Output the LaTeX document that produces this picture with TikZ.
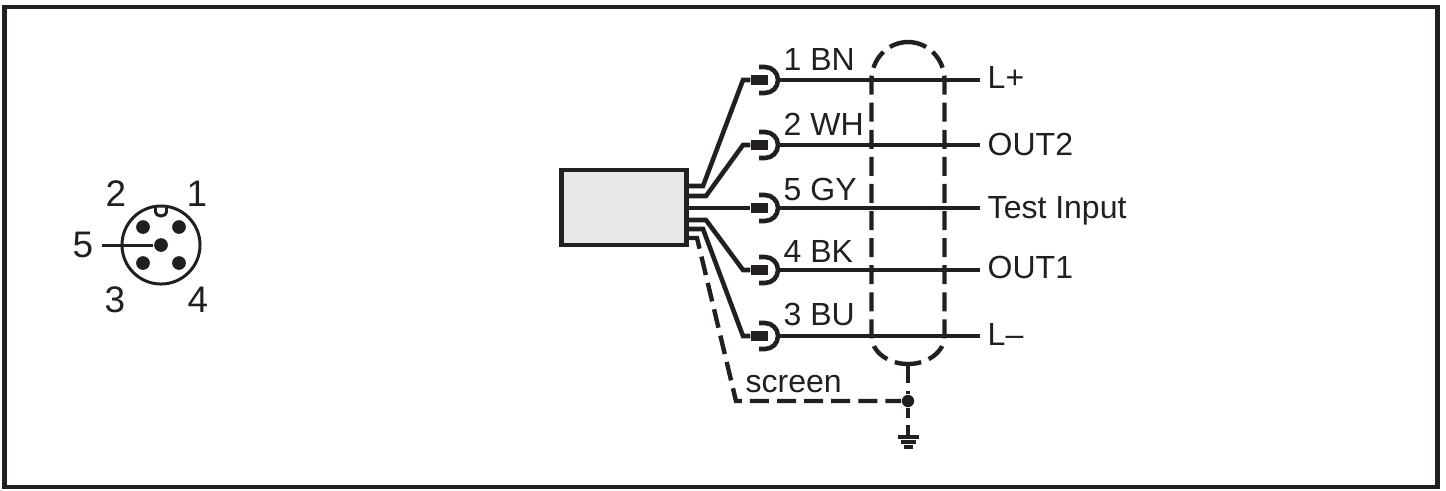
\documentclass[tikz,border=0pt]{standalone}
\usepackage{fontspec}
\setmainfont{Liberation Sans}
\definecolor{ink}{HTML}{231F20}
\definecolor{boxgrey}{HTML}{E6E7E8}
\tikzset{
    wire/.style={ink, line width=1.3pt},
    thinwire/.style={ink, line width=.85pt},
    screenwire/.style={ink, line width=1.25pt, dash pattern=on 5.4pt off 2.3pt},
    sig/.style={anchor=base west, inner sep=0pt, text=ink, font=\fontsize{9.1}{10}\selectfont},
    pinno/.style={inner sep=0pt, text=ink, font=\fontsize{10.5}{11}\selectfont},
    pin/.style={circle, fill=ink, inner sep=0pt, minimum size=3.9pt},
}
\begin{document}
\begin{tikzpicture}[x=.01cm, y=-.01cm]
    \useasboundingbox (0, 0) rectangle (1446, 490);
    \node[draw=ink, line width=1.25pt, minimum width=14.32cm, minimum height=4.8cm, inner sep=0pt] (frame) at (721, 247) {};

    % connector seen from the front
    \node[circle, draw=ink, line width=.85pt, minimum size=.78cm, inner sep=0pt] (plug) at (161, 245) {};
    \foreach \n/\x/\y in {1/179/227, 2/143/227, 3/143/263, 4/179/263, 5/161/245} {
        \node[pin] (pin\n) at (\x, \y) {};
    }
    \draw[thinwire] (155.5, 206) -- (155.5, 212) arc (180:0:5.5 and 4) -- (166.5, 206);
    \coordinate (lead) at (102, 245);
    \draw[thinwire] (lead) -- (pin5);
    \foreach \n/\x/\y in {1/197/194, 2/116/194, 3/115/300, 4/198/300, 5/83/245} {
        \node[pinno] (no\n) at (\x, \y) {\n};
    }

    % sensor and its leads
    \node[draw=ink, line width=1.4pt, fill=boxgrey, minimum width=1.25cm, minimum height=.75cm, inner sep=0pt] (sensor) at (624, 207.5) {};
    \foreach \n/\s/\k/\y/\base/\col/\sbase/\name in {
            1/186/703/80/70/1 BN/88/L+,
            2/196/706/145/135/2 WH/155/OUT2,
            5/208/720/208/200/5 GY/218/Test Input,
            4/220/706/270/262/4 BK/278/OUT1,
            3/229/703/336/325/3 BU/345/L--} {
        \coordinate (a\n) at (689, \s);
        \coordinate (b\n) at (\k, \s);
        \coordinate (c\n) at (743, \y);
        \coordinate (d\n) at (778, \y);
        \node[fill=ink, minimum width=.17cm, minimum height=.1cm, inner sep=0pt] (plug\n) at (759.5, \y) {};
        \draw[wire] (a\n) -- (b\n) -- (c\n) -- (plug\n);
        \draw[wire] (759, \y-13) -- (765, \y-13) arc (-90:90:13) -- (759, \y+13);
        \node[sig] (col\n) at (783, \base) {\col};
        \node[sig] (sig\n) at (987, \sbase) {\name};
        \coordinate (e\n) at (980, \y);
        \draw[wire] (d\n) -- (e\n);
    }

    % screen
    \coordinate (s0) at (689, 238);
    \coordinate (s1) at (697, 238);
    \coordinate (s2) at (736, 401);
    \node[pin, minimum size=3.5pt] (tap) at (908, 401) {};
    \draw[screenwire] (s0) -- (s1) -- (s2) -- (tap);
    \node[sig] (screen) at (745, 392) {screen};
    \draw[screenwire] (908, 42) arc (-90:-180:36.5 and 38) -- (871.5, 336) arc (180:90:36.5 and 28);
    \draw[screenwire] (908, 42) arc (-90:0:36.5 and 38) -- (944.5, 336) arc (0:90:36.5 and 28);
    \coordinate (bottom) at (908, 364);
    \draw[screenwire] (bottom) -- (tap);

    % earth
    \coordinate (earth) at (908, 437);
    \draw[wire] (tap) -- (908, 418);
    \draw[wire] (908, 425) -- (earth);
    \draw[ink, line width=1.15pt] (898, 437) -- (919, 437) (901, 442) -- (916, 442) (903.5, 447) -- (913, 447);
\end{tikzpicture}
\end{document}
